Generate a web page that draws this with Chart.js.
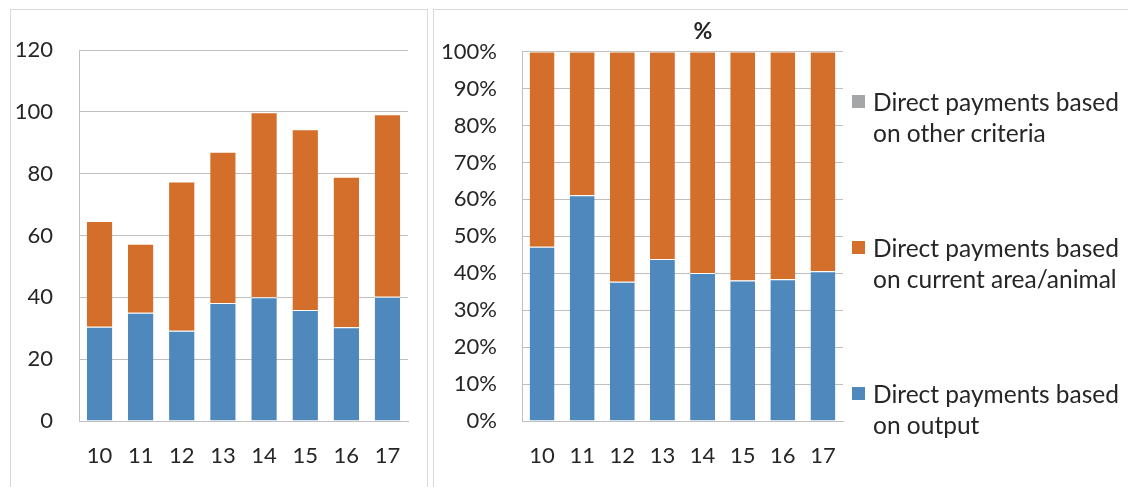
<!DOCTYPE html>
<html>
<head>
<meta charset="utf-8">
<script src="https://cdn.jsdelivr.net/npm/chart.js@4/dist/chart.umd.min.js"></script>
<style>
  body { margin: 0; background: #fff; width: 1128px; height: 487px; overflow: hidden; position: relative; font-family: Lato, sans-serif; }
  .frame { position: absolute; border: 1px solid #d9d9d9; box-sizing: border-box; }
  #leftBox { left: 10px; top: 9px; width: 418px; height: 500px; }
  #rightBox { left: 433px; top: 9px; width: 720px; height: 500px; }
  #leftWrap { position: absolute; left: 10px; top: 10px; width: 417px; height: 477px; }
  #rightWrap { position: absolute; left: 433px; top: 10px; width: 540px; height: 477px; }
  #legend { position: absolute; left: 852px; top: 86px; }
  .item { position: relative; height: 146px; padding-left: 21px; font-size: 24.5px; line-height: 31px; color: #262626; white-space: nowrap; }
  .item span.box { position: absolute; left: 0; top: 9px; width: 13px; height: 13px; }
</style>
</head>
<body>
<div class="frame" id="leftBox"></div>
<div class="frame" id="rightBox"></div>
<div id="leftWrap"><canvas id="left"></canvas></div>
<div id="rightWrap"><canvas id="right"></canvas></div>
<div id="legend"></div>
<script>
// years (2010-2017)
const years = ['10', '11', '12', '13', '14', '15', '16', '17'];

// values
const output = [30.5, 35.0, 29.2, 38.2, 40.0, 35.9, 30.3, 40.2];
const areaAnimal = [34.2, 22.3, 48.3, 48.9, 59.9, 58.5, 48.7, 59.0];
const otherCrit = [0, 0, 0, 0, 0, 0, 0, 0];

const seriesNames = [
  ['Direct payments based', 'on output'],
  ['Direct payments based', 'on current area/animal'],
  ['Direct payments based', 'on other criteria']
];
const COLORS = ['#4e88bc', '#d36f2a', '#a5a6a8'];

const FONT = { family: 'Lato, sans-serif', size: 22 };
const TXT = '#262626';
const GRID = '#bfbfbf';

// shares in percent, for the right chart
function share(arr) {
  return arr.map((v, i) => {
    const tot = output[i] + areaAnimal[i] + otherCrit[i];
    return v / tot * 100;
  });
}

function makeSets(a, b, c) {
  return [a, b, c].map((d, i) => ({
    label: seriesNames[i].join(' '),
    data: d,
    backgroundColor: COLORS[i],
    borderColor: '#ffffff',
    borderWidth: { top: 1, left: 0, right: 0, bottom: 0 },
    borderSkipped: 'start',
    barPercentage: 0.62,
    categoryPercentage: 1
  }));
}

function axes(max, step, yWidth, yPad, cb) {
  return {
    x: {
      stacked: true,
      grid: { display: false, drawTicks: false },
      border: { display: true, color: GRID, width: 1 },
      ticks: { font: FONT, color: TXT, padding: 22, maxRotation: 0 },
      afterFit: s => { s.height = 66; }
    },
    y: {
      stacked: true,
      min: 0,
      max: max,
      grid: { color: GRID, drawTicks: false },
      border: { display: true, color: GRID, width: 1 },
      ticks: { stepSize: step, font: FONT, color: TXT, padding: yPad, callback: cb },
      afterFit: s => { s.width = yWidth; }
    }
  };
}

const left = new Chart(document.getElementById('left'), {
  type: 'bar',
  data: { labels: years, datasets: makeSets(output, areaAnimal, otherCrit) },
  options: {
    responsive: true,
    maintainAspectRatio: false,
    animation: false,
    layout: { padding: { top: 40, right: 19, bottom: 0, left: 0 } },
    plugins: { legend: { display: false }, tooltip: { enabled: false } },
    scales: axes(120, 20, 69, 26, v => v)
  }
});

// right chart: an empty right-hand axis keeps room for the legend,
// so the title stays centred on the whole panel
const rScales = axes(100, 10, 89, 25, v => v + '%');
rScales.yRoom = {
  position: 'right',
  min: 0,
  max: 1,
  grid: { display: false, drawTicks: false },
  border: { display: false },
  ticks: { display: false },
  afterFit: s => { s.width = 130; }
};

const right = new Chart(document.getElementById('right'), {
  type: 'bar',
  data: { labels: years, datasets: makeSets(share(output), share(areaAnimal), share(otherCrit)) },
  options: {
    responsive: true,
    maintainAspectRatio: false,
    animation: false,
    layout: { padding: 0 },
    plugins: {
      legend: { display: false },
      tooltip: { enabled: false },
      title: {
        display: true,
        text: '%',
        color: TXT,
        font: { family: 'Lato, sans-serif', size: 23, weight: 'bold', lineHeight: 1.2 },
        padding: { top: 8, bottom: 6 }
      }
    },
    scales: rScales
  }
});

// legend, listed from top: other, area/animal, output
const leg = document.getElementById('legend');
[2, 1, 0].forEach(i => {
  const d = document.createElement('div');
  d.className = 'item';
  d.innerHTML = '<span class="box" style="background:' + COLORS[i] + '"></span>' +
    seriesNames[i][0] + '<br>' + seriesNames[i][1];
  leg.appendChild(d);
});
</script>
</body>
</html>
